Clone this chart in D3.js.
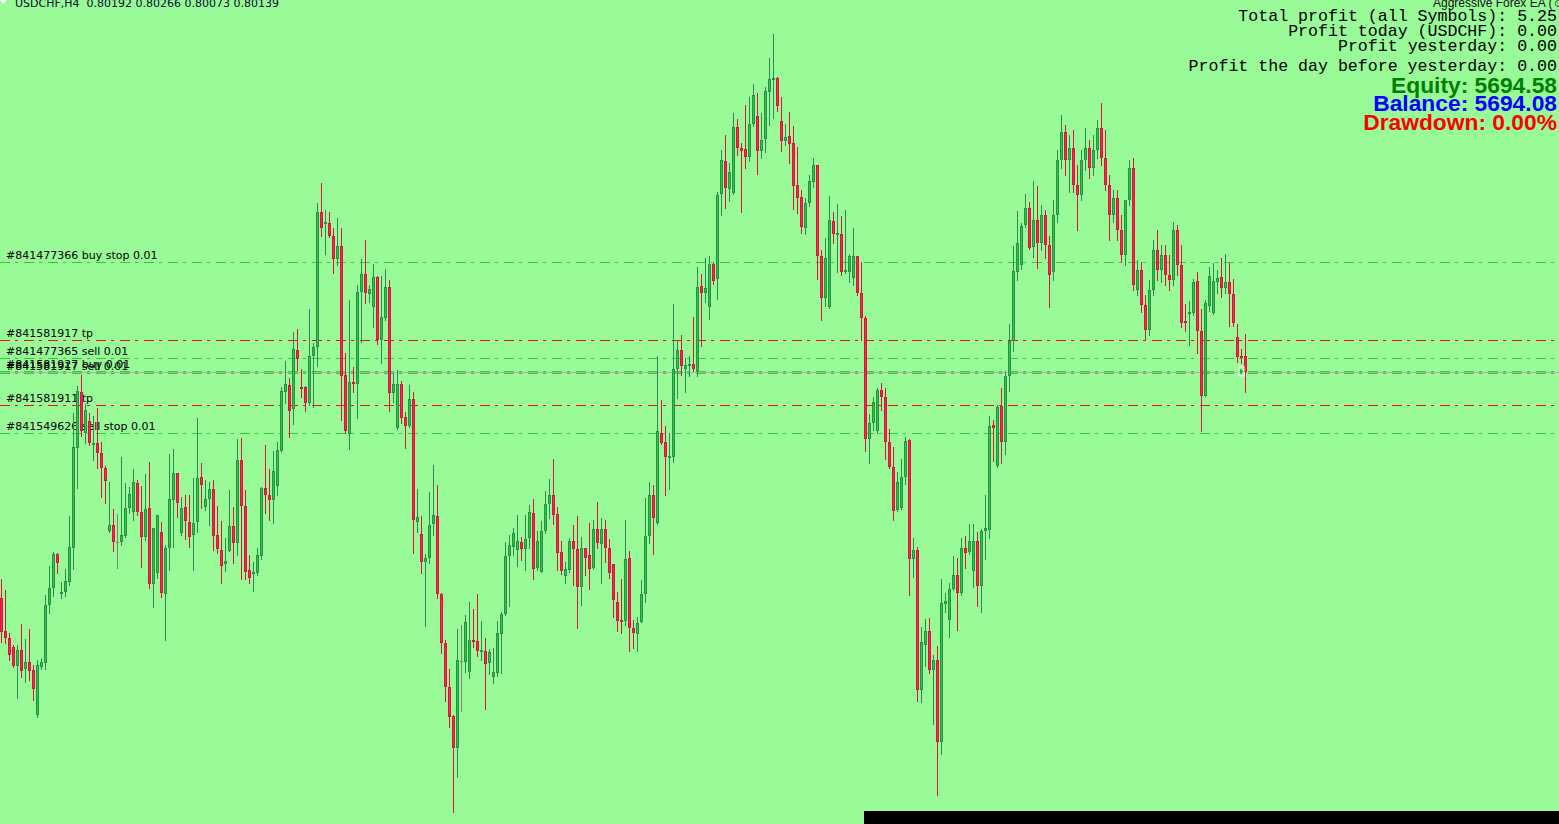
<!DOCTYPE html>
<html><head><meta charset="utf-8">
<script src="https://cdn.jsdelivr.net/npm/d3@7"></script>
<style>html,body{margin:0;padding:0;background:#98fb98;overflow:hidden}</style>
</head><body><svg id="c" width="1559" height="824"></svg>
<script>
const symbolLabel = "USDCHF,H4";
const opens = [
0.79386,0.79277,0.79252,0.79222,0.79161,0.79213,0.79149,0.79172,0.79147,0.78998,
0.79158,0.79169,0.79363,0.79419,0.79533,0.79402,0.79408,0.79441,0.79552,0.79886,
0.80074,0.79937,0.79978,0.79900,0.79902,0.79871,0.79819,0.79611,0.79629,0.79574,
0.79574,0.79593,0.79686,0.79674,0.79769,0.79672,0.79591,0.79686,0.79432,0.79469,
0.79606,0.79399,0.79552,0.79713,0.79802,0.79602,0.79689,0.79641,0.79597,0.79639,
0.79789,0.79689,0.79716,0.79749,0.79597,0.79547,0.79500,0.79544,0.79627,0.79571,
0.79847,0.79693,0.79480,0.79469,0.79471,0.79528,0.79752,0.79730,0.79713,0.79760,
0.79878,0.80074,0.80097,0.80016,0.80213,0.80090,0.80089,0.80036,0.80194,0.80222,
0.80672,0.80633,0.80636,0.80593,0.80516,0.80560,0.80130,0.79932,0.80106,0.80099,
0.80408,0.80466,0.80399,0.80358,0.80456,0.80247,0.80319,0.80422,0.80069,0.79952,
0.80099,0.79989,0.79961,0.80049,0.79641,0.79599,0.79508,0.79519,0.79632,0.79659,
0.79400,0.79236,0.79091,0.78993,0.78886,0.79177,0.79174,0.79139,0.79247,0.79242,
0.79208,0.79209,0.79169,0.79124,0.79138,0.79266,0.79332,0.79527,0.79558,0.79547,
0.79572,0.79549,0.79586,0.79669,0.79486,0.79472,0.79610,0.79699,0.79730,0.79667,
0.79539,0.79461,0.79480,0.79577,0.79550,0.79422,0.79552,0.79529,0.79486,0.79616,
0.79566,0.79616,0.79552,0.79499,0.79374,0.79313,0.79310,0.79519,0.79286,0.79266,
0.79306,0.79399,0.79593,0.79730,0.79638,0.79938,0.79906,0.79856,0.79856,0.80150,
0.80213,0.80151,0.80161,0.80166,0.80144,0.80427,0.80404,0.80358,0.80500,0.80449,
0.80732,0.80843,0.80751,0.80736,0.80956,0.80887,0.80883,0.80858,0.80967,0.80993,
0.80878,0.80916,0.81074,0.81113,0.81119,0.80977,0.80911,0.80927,0.80902,0.80763,
0.80722,0.80621,0.80702,0.80772,0.80830,0.80527,0.80386,0.80356,0.80643,0.80599,
0.80600,0.80474,0.80474,0.80452,0.80527,0.80402,0.80319,0.79917,0.79969,0.79942,
0.80079,0.80055,0.79906,0.79822,0.79679,0.79686,0.79789,0.79913,0.79517,0.79545,
0.79080,0.79231,0.79277,0.79148,0.79179,0.78906,0.79366,0.79313,0.79418,0.79462,
0.79403,0.79554,0.79541,0.79475,0.79578,0.79425,0.79610,0.79614,0.79963,0.79828,
0.80025,0.79907,0.80125,0.80242,0.80473,0.80497,0.80631,0.80685,0.80556,0.80648,
0.80570,0.80663,0.80563,0.80473,0.80663,0.80847,0.80940,0.80847,0.80887,0.80763,
0.80730,0.80847,0.80887,0.80820,0.80880,0.80953,0.80853,0.80763,0.80663,0.80720,
0.80613,0.80530,0.80713,0.80820,0.80413,0.80480,0.80363,0.80280,0.80413,0.80547,
0.80480,0.80530,0.80463,0.80447,0.80613,0.80497,0.80310,0.80337,0.80338,0.80443,
0.80277,0.80061,0.80361,0.80336,0.80441,0.80456,0.80419,0.80441,0.80399,0.80258,
0.80193,0.80192];
const highs = [
0.79449,0.79413,0.79269,0.79230,0.79230,0.79300,0.79250,0.79282,0.79163,0.79180,
0.79187,0.79397,0.79493,0.79541,0.79538,0.79441,0.79482,0.79660,0.80003,0.80093,
0.80130,0.80033,0.80003,0.79993,0.80019,0.79908,0.79827,0.79774,0.79682,0.79666,
0.79856,0.79769,0.79756,0.79816,0.79780,0.79760,0.79800,0.79841,0.79620,0.79663,
0.79639,0.79563,0.79866,0.79882,0.79804,0.79722,0.79730,0.79730,0.79786,0.79986,
0.79836,0.79780,0.79774,0.79780,0.79693,0.79644,0.79586,0.79747,0.79691,0.79916,
0.79919,0.79747,0.79530,0.79506,0.79552,0.79756,0.79897,0.79817,0.79877,0.79906,
0.80090,0.80177,0.80119,0.80272,0.80282,0.80149,0.80093,0.80349,0.80236,0.80702,
0.80769,0.80680,0.80674,0.80619,0.80652,0.80619,0.80204,0.80380,0.80156,0.80430,
0.80516,0.80580,0.80430,0.80499,0.80460,0.80460,0.80483,0.80447,0.80138,0.80147,
0.80110,0.80006,0.80097,0.80072,0.79749,0.79660,0.79532,0.79740,0.79830,0.79763,
0.79402,0.79247,0.79149,0.78996,0.79283,0.79297,0.79330,0.79372,0.79350,0.79400,
0.79310,0.79252,0.79216,0.79219,0.79309,0.79340,0.79573,0.79597,0.79619,0.79663,
0.79589,0.79663,0.79697,0.79717,0.79610,0.79643,0.79743,0.79783,0.79850,0.79691,
0.79577,0.79506,0.79586,0.79630,0.79660,0.79589,0.79554,0.79636,0.79647,0.79706,
0.79652,0.79647,0.79583,0.79499,0.79408,0.79450,0.79647,0.79543,0.79313,0.79324,
0.79447,0.79721,0.79774,0.79763,0.80193,0.80047,0.79960,0.79938,0.80367,0.80247,
0.80263,0.80186,0.80193,0.80324,0.80489,0.80467,0.80519,0.80527,0.80504,0.80739,
0.80880,0.80930,0.80836,0.81002,0.80983,0.80902,0.81030,0.81058,0.81100,0.81071,
0.81002,0.81091,0.81186,0.81267,0.81124,0.81056,0.80966,0.81008,0.80960,0.80891,
0.80747,0.80719,0.80797,0.80852,0.80830,0.80547,0.80586,0.80727,0.80672,0.80700,
0.80660,0.80680,0.80533,0.80619,0.80527,0.80506,0.80328,0.80000,0.80055,0.80085,
0.80104,0.80085,0.79950,0.79890,0.79805,0.79851,0.79923,0.79917,0.79587,0.79558,
0.79291,0.79317,0.79320,0.79198,0.79227,0.79449,0.79403,0.79436,0.79528,0.79521,
0.79587,0.79594,0.79633,0.79633,0.79607,0.79617,0.79730,0.79992,0.79981,0.80029,
0.80085,0.80143,0.80299,0.80559,0.80677,0.80638,0.80734,0.80705,0.80776,0.80760,
0.80697,0.80680,0.80593,0.80713,0.80880,0.80997,0.80963,0.80930,0.80947,0.80830,
0.80880,0.80953,0.80913,0.80930,0.80980,0.81037,0.80947,0.80797,0.80747,0.80747,
0.80663,0.80620,0.80847,0.80853,0.80513,0.80507,0.80397,0.80447,0.80580,0.80613,
0.80563,0.80563,0.80530,0.80640,0.80630,0.80563,0.80367,0.80377,0.80450,0.80474,
0.80350,0.80380,0.80491,0.80504,0.80480,0.80519,0.80533,0.80504,0.80449,0.80299,
0.80217,0.80266];
const lows = [
0.79241,0.79238,0.79180,0.79157,0.79054,0.79124,0.79108,0.79113,0.79047,0.78989,
0.79149,0.79149,0.79336,0.79394,0.79469,0.79386,0.79394,0.79430,0.79482,0.79754,
0.79928,0.79903,0.79897,0.79847,0.79819,0.79724,0.79704,0.79608,0.79544,0.79488,
0.79563,0.79591,0.79669,0.79647,0.79663,0.79491,0.79580,0.79419,0.79356,0.79453,
0.79389,0.79247,0.79480,0.79558,0.79658,0.79597,0.79582,0.79558,0.79480,0.79608,
0.79686,0.79680,0.79630,0.79547,0.79538,0.79438,0.79478,0.79544,0.79504,0.79530,
0.79449,0.79449,0.79436,0.79411,0.79463,0.79517,0.79669,0.79647,0.79638,0.79730,
0.79877,0.80036,0.79924,0.79967,0.80147,0.80058,0.80011,0.80030,0.80024,0.80161,
0.80594,0.80533,0.80589,0.80471,0.80497,0.79980,0.79936,0.79883,0.80074,0.79986,
0.80241,0.80369,0.80374,0.80289,0.80232,0.80171,0.80313,0.80011,0.80041,0.79949,
0.79969,0.79888,0.79958,0.79536,0.79608,0.79471,0.79293,0.79504,0.79597,0.79386,
0.79202,0.79044,0.78958,0.78674,0.78791,0.79011,0.79141,0.79121,0.79224,0.79194,
0.79180,0.79018,0.79132,0.79102,0.79128,0.79138,0.79331,0.79361,0.79530,0.79494,
0.79513,0.79480,0.79552,0.79451,0.79480,0.79472,0.79604,0.79652,0.79632,0.79480,
0.79467,0.79438,0.79474,0.79430,0.79288,0.79363,0.79463,0.79417,0.79483,0.79554,
0.79436,0.79506,0.79452,0.79324,0.79278,0.79271,0.79297,0.79211,0.79221,0.79211,
0.79306,0.79374,0.79569,0.79532,0.79633,0.79900,0.79730,0.79749,0.79841,0.80054,
0.80130,0.80074,0.80127,0.80144,0.80127,0.80227,0.80374,0.80317,0.80432,0.80382,
0.80663,0.80688,0.80711,0.80733,0.80863,0.80674,0.80821,0.80844,0.80960,0.80800,
0.80854,0.80874,0.80963,0.80988,0.81011,0.80878,0.80897,0.80838,0.80683,0.80669,
0.80604,0.80600,0.80694,0.80758,0.80449,0.80313,0.80360,0.80352,0.80571,0.80474,
0.80463,0.80471,0.80441,0.80430,0.80397,0.80246,0.79877,0.79838,0.79947,0.79936,
0.80013,0.79851,0.79820,0.79647,0.79675,0.79683,0.79765,0.79396,0.79458,0.79043,
0.79040,0.79159,0.79135,0.78965,0.78730,0.78866,0.79341,0.79255,0.79413,0.79281,
0.79396,0.79486,0.79532,0.79422,0.79360,0.79341,0.79517,0.79585,0.79842,0.79824,
0.79835,0.79865,0.80075,0.80211,0.80448,0.80483,0.80624,0.80549,0.80523,0.80487,
0.80547,0.80520,0.80357,0.80447,0.80640,0.80820,0.80797,0.80740,0.80740,0.80613,
0.80713,0.80813,0.80787,0.80797,0.80853,0.80830,0.80747,0.80580,0.80640,0.80580,
0.80507,0.80497,0.80697,0.80413,0.80397,0.80340,0.80247,0.80263,0.80397,0.80447,
0.80440,0.80430,0.80413,0.80430,0.80463,0.80290,0.80278,0.80230,0.80330,0.80202,
0.79943,0.80060,0.80344,0.80333,0.80402,0.80389,0.80402,0.80293,0.80293,0.80174,
0.80171,0.80073];
const closes = [
0.79274,0.79252,0.79197,0.79160,0.79213,0.79144,0.79172,0.79144,0.79084,0.79162,
0.79173,0.79362,0.79419,0.79532,0.79504,0.79406,0.79442,0.79556,0.79889,0.80077,
0.79944,0.80013,0.79902,0.79904,0.79871,0.79819,0.79778,0.79630,0.79574,0.79574,
0.79597,0.79686,0.79732,0.79772,0.79674,0.79589,0.79682,0.79432,0.79619,0.79663,
0.79402,0.79552,0.79716,0.79802,0.79702,0.79686,0.79644,0.79591,0.79638,0.79788,
0.79763,0.79716,0.79749,0.79593,0.79549,0.79494,0.79509,0.79627,0.79571,0.79847,
0.79693,0.79474,0.79452,0.79474,0.79530,0.79752,0.79730,0.79713,0.79810,0.79880,
0.80077,0.80099,0.80011,0.80216,0.80182,0.80088,0.80036,0.80193,0.80222,0.80672,
0.80619,0.80639,0.80594,0.80516,0.80560,0.80128,0.79944,0.80108,0.80102,0.80406,
0.80466,0.80402,0.80416,0.80456,0.80247,0.80322,0.80422,0.80069,0.80099,0.80099,
0.79988,0.79961,0.80049,0.79647,0.79656,0.79508,0.79519,0.79629,0.79662,0.79399,
0.79236,0.79091,0.78991,0.78886,0.79179,0.79177,0.79308,0.79246,0.79241,0.79211,
0.79213,0.79166,0.79207,0.79139,0.79269,0.79333,0.79527,0.79562,0.79602,0.79577,
0.79549,0.79584,0.79673,0.79484,0.79576,0.79610,0.79699,0.79730,0.79664,0.79538,
0.79478,0.79482,0.79577,0.79549,0.79424,0.79552,0.79519,0.79482,0.79616,0.79569,
0.79616,0.79552,0.79469,0.79380,0.79310,0.79309,0.79516,0.79286,0.79271,0.79304,
0.79399,0.79593,0.79730,0.79654,0.79943,0.79904,0.79856,0.79860,0.80150,0.80213,
0.80160,0.80162,0.80167,0.80149,0.80422,0.80402,0.80419,0.80500,0.80444,0.80730,
0.80847,0.80754,0.80806,0.80956,0.80886,0.80878,0.80858,0.80966,0.81063,0.80878,
0.80913,0.81077,0.81116,0.81119,0.81028,0.80911,0.80922,0.80899,0.80761,0.80719,
0.80624,0.80702,0.80777,0.80830,0.80528,0.80386,0.80519,0.80647,0.80599,0.80603,
0.80472,0.80480,0.80527,0.80527,0.80402,0.80319,0.79917,0.79969,0.80039,0.80079,
0.80055,0.79907,0.79824,0.79675,0.79772,0.79791,0.79910,0.79515,0.79545,0.79080,
0.79241,0.79277,0.79148,0.79179,0.78906,0.79370,0.79376,0.79418,0.79462,0.79403,
0.79554,0.79538,0.79578,0.79578,0.79425,0.79610,0.79620,0.79960,0.79954,0.80022,
0.79907,0.80125,0.80244,0.80477,0.80569,0.80628,0.80685,0.80553,0.80646,0.80569,
0.80663,0.80563,0.80463,0.80663,0.80847,0.80940,0.80847,0.80887,0.80763,0.80730,
0.80847,0.80887,0.80820,0.80880,0.80953,0.80853,0.80763,0.80663,0.80720,0.80613,
0.80530,0.80713,0.80820,0.80430,0.80480,0.80363,0.80280,0.80413,0.80547,0.80480,
0.80530,0.80463,0.80447,0.80613,0.80497,0.80304,0.80302,0.80340,0.80439,0.80278,
0.80061,0.80369,0.80460,0.80443,0.80452,0.80419,0.80441,0.80399,0.80304,0.80191,
0.80186,0.80139];

const orderLabels = ["#841477366 buy stop 0.01","#841581917 tp","#841477365 sell 0.01",
  "#841581927 buy 0.01","#841581917 sell 0.01","#841581911 tp","#841549626 sell stop 0.01"];
const orderPrices = [0.80506,0.80246,0.80186,0.80142,0.80136,0.80029,0.79936];

const eaName = "Aggressive Forex EA (\u263A)";
const profitTexts = ["Total profit (all Symbols): 5.25","Profit today (USDCHF): 0.00",
  "Profit yesterday: 0.00","Profit the day before yesterday: 0.00"];
const accountTexts = ["Equity: 5694.58","Balance: 5694.08","Drawdown: 0.00%"];

const W = 1559, H = 824;
const svg = d3.select("#c");
const n = opens.length;
const x = d3.scaleLinear().domain([0, n - 1]).range([1.5, 1.5 + 4 * (n - 1)]);
const y = d3.scaleLinear().domain([0.78633, 0.81380]).range([H, 0]);
const snap = v => Math.round(v) + 0.5;

svg.append("rect").attr("width", W).attr("height", H).attr("fill", "#98fb98");

const orders = orderLabels.map((t, i) => ({t, p: orderPrices[i], tp: / tp$/.test(t)}));
svg.append("g").selectAll("line").data(orders).join("line")
  .attr("x1", 0).attr("x2", W)
  .attr("y1", d => snap(y(d.p))).attr("y2", d => snap(y(d.p)))
  .attr("stroke", d => d.tp ? "#f01010" : "#32cd32")
  .attr("stroke-width", 1).attr("stroke-dasharray", "10,5,3,6");

// bid line
const lastClose = closes[n - 1];
svg.append("line").attr("x1", 0).attr("x2", W)
  .attr("y1", snap(y(lastClose))).attr("y2", snap(y(lastClose)))
  .attr("stroke", "#b8a8b8").attr("stroke-width", 1);

svg.append("g").selectAll("text").data(orders).join("text")
  .attr("x", 6).attr("y", d => y(d.p) - 3.5)
  .attr("font-family", "DejaVu Sans, sans-serif").attr("font-size", 11)
  .attr("fill", "#000").text(d => d.t);

// candles
const data = opens.map((o, i) => ({i, o, h: highs[i], l: lows[i], c: closes[i]}));
const kind = d => d.c > d.o ? "up" : (d.c < d.o ? "down" : "doji");
const wickCol = {up: "#2e8b57", down: "#dc143c", doji: "#808080"};
const fillCol = {up: "#1fd51f", down: "#ff2050", doji: "#808080"};
const g = svg.append("g");
g.selectAll("line.w").data(data).join("line").attr("class", "w")
  .attr("x1", d => x(d.i)).attr("x2", d => x(d.i))
  .attr("y1", d => Math.round(y(d.h))).attr("y2", d => Math.round(y(d.l)) + 1)
  .attr("stroke", d => wickCol[kind(d)]).attr("stroke-width", 1);
data.forEach(d => {
  const k = kind(d);
  const top = Math.round(y(Math.max(d.o, d.c)));
  const bot = Math.round(y(Math.min(d.o, d.c)));
  const cx = x(d.i);
  if (bot - top < 2) {
    g.append("line").attr("x1", cx - 1.5).attr("x2", cx + 1.5)
      .attr("y1", top + 0.5).attr("y2", top + 0.5)
      .attr("stroke", wickCol[k]).attr("stroke-width", 1);
    if (bot - top === 1) g.append("line").attr("x1", cx - 1.5).attr("x2", cx + 1.5)
      .attr("y1", bot + 0.5).attr("y2", bot + 0.5).attr("stroke", wickCol[k]).attr("stroke-width", 1);
  } else {
    g.append("rect").attr("x", cx - 1).attr("width", 2)
      .attr("y", top + 0.5).attr("height", bot - top - 1)
      .attr("fill", fillCol[k]).attr("stroke", wickCol[k]).attr("stroke-width", 1);
  }
});

// current price marker
const mx = x(n - 1) - 6, my = y(lastClose);
svg.append("rect").attr("x", mx - 0.5).attr("y", my - 5.5).attr("width", 5).attr("height", 9)
  .attr("fill", "none").attr("stroke", "#ffffff").attr("stroke-width", 1);
svg.append("path").attr("d", `M${mx+0.5},${my-3.5} L${mx+4},${my-1} L${mx+0.5},${my+1.5} Z`).attr("fill", "#00c800");

// bottom black bar
svg.append("rect").attr("x", 864).attr("y", 811).attr("width", W - 864).attr("height", H - 811).attr("fill", "#000");

// top-left header
svg.append("path").attr("d", "M0,0 L7,0 L3.5,4 Z").attr("fill", "#ffffff");
svg.append("text").attr("x", 15).attr("y", 7)
  .attr("font-family", "DejaVu Sans, sans-serif").attr("font-size", 11).attr("fill", "#0a0a30")
  .attr("xml:space", "preserve").style("white-space", "pre")
  .text(`${symbolLabel}  ${opens[n-1].toFixed(5)} ${highs[n-1].toFixed(5)} ${lows[n-1].toFixed(5)} ${closes[n-1].toFixed(5)}`);

// top-right info
svg.append("text").attr("x", 1433).attr("y", 7)
  .attr("font-family", "Liberation Sans, DejaVu Sans, sans-serif").attr("font-size", 12).attr("fill", "#111")
  .text(eaName);
const pBase = [20.5, 35.5, 50.5, 70.5];
svg.append("g").selectAll("text").data(profitTexts).join("text")
  .attr("x", 1557).attr("y", (d, i) => pBase[i]).attr("text-anchor", "end")
  .attr("font-family", "Liberation Mono, Courier New, monospace").attr("font-size", 16.6)
  .attr("fill", "#000").style("white-space", "pre").text(d => d);
const aBase = [93, 110.5, 130];
const aCol = ["#008000", "#0000ff", "#ff0000"];
svg.append("g").selectAll("text").data(accountTexts).join("text")
  .attr("x", 1557).attr("y", (d, i) => aBase[i]).attr("text-anchor", "end")
  .attr("font-family", "Liberation Sans, Arial, sans-serif").attr("font-weight", "bold").attr("font-size", 22.8)
  .attr("fill", (d, i) => aCol[i]).text(d => d);
</script></body></html>
